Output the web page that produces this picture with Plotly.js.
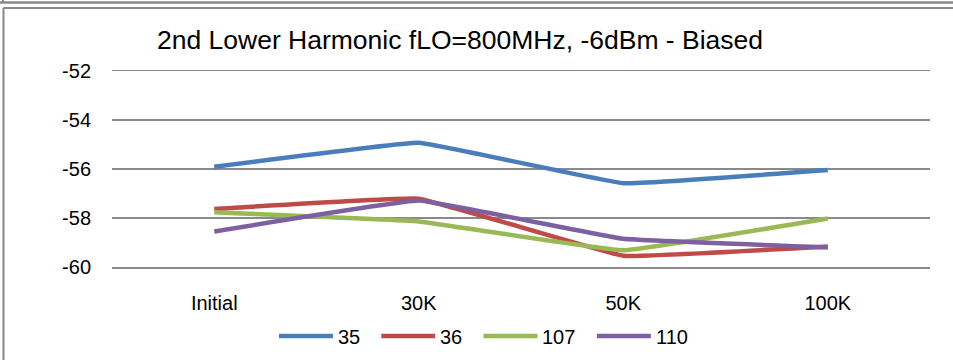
<!DOCTYPE html>
<html>
<head>
<meta charset="utf-8">
<script src="https://cdn.plot.ly/plotly-3.0.1.min.js"></script>
<style>
html,body{margin:0;padding:0;background:#fff;}
#chart{width:953px;height:360px;}
</style>
</head>
<body>
<div id="chart"></div>
<script>
// ---- data ----
var categories = ["Initial", "30K", "50K", "100K"];
var seriesNames = ["35", "36", "107", "110"];
var s35  = [-55.91, -54.93, -56.58, -56.04];
var s36  = [-57.63, -57.21, -59.54, -59.16];
var s107 = [-57.77, -58.14, -59.32, -58.02];
var s110 = [-58.55, -57.29, -58.85, -59.20];
var yTicks = [-60, -58, -56, -54, -52];
var titleText = "2nd Lower Harmonic fLO=800MHz, -6dBm - Biased";

// ---- styling ----
var W = 953, H = 360;
var M = {l: 112, r: 23, t: 71, b: 93};
var pw = W - M.l - M.r, ph = H - M.t - M.b;
function px(x){ return (x - M.l) / pw; }
function py(y){ return (H - M.b - y) / ph; }
var colors = ["#4A7EBB", "#BE4B48", "#98B954", "#7D60A0"];
var FONT = "Liberation Sans, Arial, sans-serif";
var gridColor = "#8a8a8a";

var values = [s35, s36, s107, s110];
var traces = values.map(function(v, i){
  return {
    x: categories, y: v, name: seriesNames[i], type: "scatter", mode: "lines",
    line: {color: colors[i], width: 4.5, shape: "spline", smoothing: 0.2},
    showlegend: false, hoverinfo: "x+y+name"
  };
});

// frame shapes (chart borders)
var shapes = [
  {type:"line", xref:"paper", yref:"paper", x0:px(0), x1:px(W), y0:py(2.5), y1:py(2.5), line:{color:"#888", width:2.5}},
  {type:"line", xref:"paper", yref:"paper", x0:px(3), x1:px(3), y0:py(0), y1:py(3), line:{color:"#888", width:2}},
  {type:"line", xref:"paper", yref:"paper", x0:px(3.5), x1:px(W), y0:py(8), y1:py(8), line:{color:"#888", width:2}},
  {type:"line", xref:"paper", yref:"paper", x0:px(3.5), x1:px(3.5), y0:py(8), y1:py(H), line:{color:"#888", width:2}}
];

// custom legend (lines + labels)
var annotations = [];
var legY = 336, lx = 279, lineLen = 54, fontSize = 20;
seriesNames.forEach(function(n, i){
  shapes.push({type:"line", xref:"paper", yref:"paper", x0:px(lx), x1:px(lx+lineLen), y0:py(legY), y1:py(legY),
    line:{color:colors[i], width:4.5}});
  annotations.push({xref:"paper", yref:"paper", x:px(lx+lineLen+3), y:py(legY+1), xanchor:"left", yanchor:"middle",
    text:n, showarrow:false, font:{family:FONT, size:fontSize, color:"#000"}});
  lx += lineLen + 4 + n.length * 0.556 * fontSize + 22;
});

var layout = {
  width: W, height: H,
  margin: M,
  paper_bgcolor: "#fff", plot_bgcolor: "#fff",
  font: {family: FONT, size: 20, color: "#000"},
  title: {text: titleText, font: {family: FONT, size: 26.5, color: "#000"},
          xref: "paper", x: px(460), xanchor: "center", yref: "container", y: 1 - 40/H, yanchor: "middle"},
  xaxis: {type: "category", showgrid: false, zeroline: false, showline: true, linecolor: gridColor, linewidth: 1.5,
          mirror: true, ticks: "", ticklabelstandoff: 17, tickfont: {family: FONT, size: 20}, range: [-0.5, 3.5]},
  yaxis: {range: [-60, -52], tickvals: yTicks, ticktext: yTicks.map(String), showgrid: true, gridcolor: gridColor, gridwidth: 1.5,
          zeroline: false, showline: false, ticks: "", ticklabelstandoff: 20, tickfont: {family: FONT, size: 20}},
  shapes: shapes,
  annotations: annotations,
  showlegend: false
};

Plotly.newPlot("chart", traces, layout, {displayModeBar: false, staticPlot: true});
</script>
</body>
</html>
